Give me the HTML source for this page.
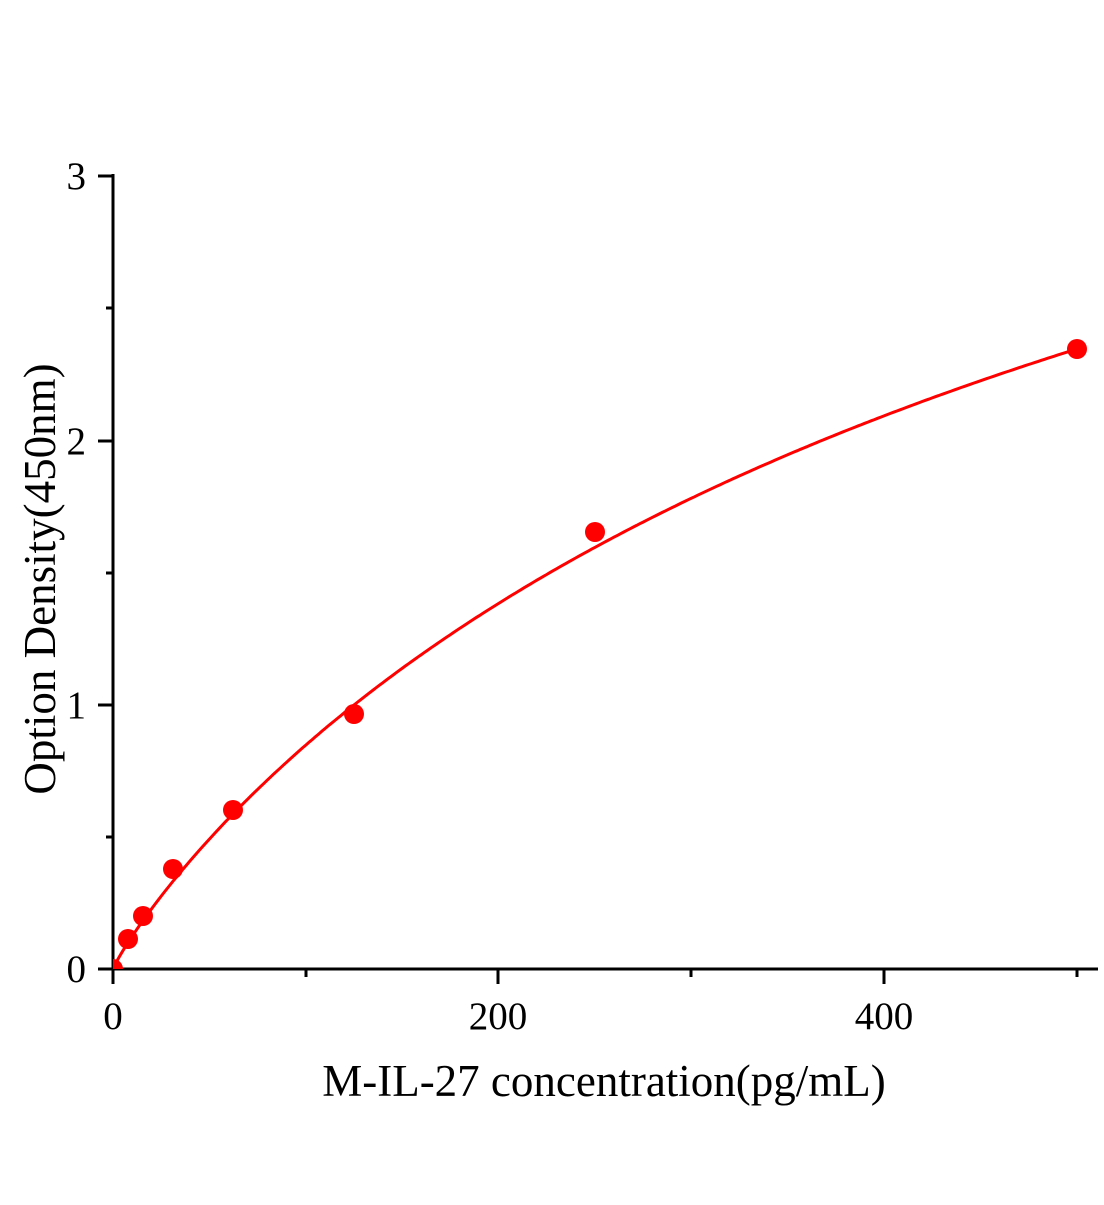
<!DOCTYPE html>
<html><head><style>
html,body{margin:0;padding:0;background:#fff;}
</style></head><body>
<svg id="s" width="1104" height="1200" xmlns="http://www.w3.org/2000/svg" font-family="Liberation Serif, serif">
<defs><clipPath id="c"><rect x="113" y="100" width="1000" height="869"/></clipPath></defs>
<g stroke="#000" stroke-width="3" fill="none">
<line x1="113" y1="174" x2="113" y2="970"/>
<line x1="111.5" y1="969" x2="1098" y2="969"/>
<line x1="98" y1="176" x2="113" y2="176"/>
<line x1="98" y1="441" x2="113" y2="441"/>
<line x1="98" y1="705" x2="113" y2="705"/>
<line x1="98" y1="969" x2="113" y2="969"/>
<line x1="106" y1="308" x2="113" y2="308"/>
<line x1="106" y1="573" x2="113" y2="573"/>
<line x1="106" y1="837" x2="113" y2="837"/>
<line x1="113" y1="969" x2="113" y2="984"/>
<line x1="498" y1="969" x2="498" y2="984"/>
<line x1="884" y1="969" x2="884" y2="984"/>
<line x1="306" y1="969" x2="306" y2="977"/>
<line x1="691" y1="969" x2="691" y2="977"/>
<line x1="1077" y1="969" x2="1077" y2="977"/>
</g>
<g font-size="39" fill="#000" text-anchor="end">
<text x="86" y="189">3</text>
<text x="86" y="454">2</text>
<text x="86" y="718">1</text>
<text x="86" y="982">0</text>
</g>
<g font-size="39" fill="#000" text-anchor="middle">
<text x="113" y="1029">0</text>
<text x="498" y="1029">200</text>
<text x="884" y="1029">400</text>
</g>
<text x="604" y="1096" font-size="45" text-anchor="middle">M-IL-27 concentration(pg/mL)</text>
<text transform="translate(55,579) rotate(-90)" font-size="45" text-anchor="middle">Option Density(450nm)</text>
<g clip-path="url(#c)">
<path id="curve" fill="none" stroke="#f00" stroke-width="3"/>
<g fill="#f00">
<circle cx="113" cy="969" r="10"/>
<circle cx="128" cy="939" r="10"/>
<circle cx="143" cy="916" r="10"/>
<circle cx="173" cy="869" r="10"/>
<circle cx="233" cy="810" r="10"/>
<circle cx="354" cy="714" r="10"/>
<circle cx="595" cy="532" r="10"/>
<circle cx="1077" cy="349" r="10"/>
</g>
</g>
</svg>
<script>
var d="";
for(var i=0;i<=300;i++){var x=500*i/300;var xp=Math.pow(x,0.9);var y=5.142*xp/(319.5+xp);
var px=113+x*1.9275, py=969-y*264;d+=(i?"L":"M")+px.toFixed(1)+" "+py.toFixed(1);}
document.getElementById("curve").setAttribute("d",d);
</script>
</body></html>
